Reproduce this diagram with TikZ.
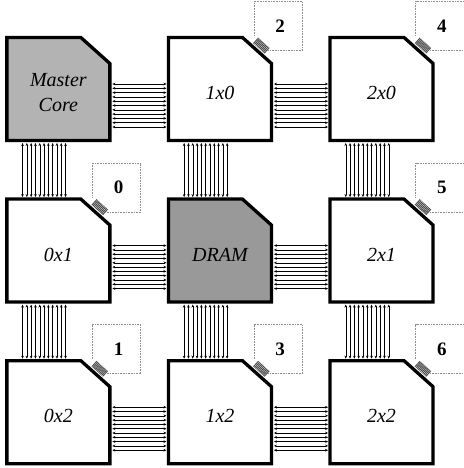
\documentclass[tikz,border=0pt]{standalone}
\usepackage{fontspec}
\setmainfont{Liberation Serif}
\usetikzlibrary{arrows.meta,positioning,calc}
\definecolor{masterGray}{HTML}{B3B3B3}
\definecolor{dramGray}{HTML}{999999}
\definecolor{tileGray}{HTML}{8C8C8C}
\begin{document}
\begin{tikzpicture}[
    x=1pt, y=1pt,
    node distance=58.6pt,
    chip/.style={outer sep=0pt, inner sep=0pt, minimum width=103pt, minimum height=103pt},
    chipedge/.style={draw=black, line width=3.3pt, miter limit=4},
    chiplabel/.style={font=\fontsize{20}{25}\selectfont\itshape, align=center},
    tile/.style={outer sep=0pt, inner sep=0pt, minimum width=48.4pt, minimum height=49pt,
                 anchor=south west, font=\fontsize{19}{23}\selectfont\bfseries},
    tileedge/.style={draw=tileGray, densely dotted, line width=0.6pt},
    busline/.style={{Stealth[length=3pt,width=2.6pt]}-{Stealth[length=3pt,width=2.6pt]}, line width=0.5pt},
    tapline/.style={line width=1pt, black!70},
  ]
  \useasboundingbox (0,0) rectangle (463,468);
  \node[chip] (master) at (58.35,379) {};
  \node[chip, right=of master] (n10) {};
  \node[chip, right=of n10] (n20) {};
  \node[chip, below=of master] (n01) {};
  \node[chip, right=of n01] (dram) {};
  \node[chip, right=of dram] (n21) {};
  \node[chip, below=of n01] (n02) {};
  \node[chip, right=of n02] (n12) {};
  \node[chip, right=of n12] (n22) {};
  \foreach \a/\c/\t in {master/masterGray/{Master\\Core},n10/white/1x0,n20/white/2x0,
                        n01/white/0x1,dram/dramGray/DRAM,n21/white/2x1,
                        n02/white/0x2,n12/white/1x2,n22/white/2x2}{
    \draw[chipedge, fill=\c] (\a.south west) -- (\a.south east) -- ([yshift=-26]\a.north east)
      -- ([xshift=-29]\a.north east) -- (\a.north west) -- cycle;
    \node[chiplabel] (label\a) at ([yshift=-4]\a.center) {\t};
  }
  \node[tile] (t0) at ([shift={(-17.5,-13)}]n01.north east) {\hspace*{4pt}0};
  \node[tile] (t1) at ([shift={(-17.5,-13)}]n02.north east) {\hspace*{4pt}1};
  \node[tile] (t2) at ([shift={(-17.5,-13)}]n10.north east) {\hspace*{4pt}2};
  \node[tile] (t3) at ([shift={(-17.5,-13)}]n12.north east) {\hspace*{4pt}3};
  \node[tile] (t4) at ([shift={(-17.5,-13)}]n20.north east) {\hspace*{4pt}4};
  \node[tile] (t5) at ([shift={(-17.5,-13)}]n21.north east) {\hspace*{4pt}5};
  \node[tile] (t6) at ([shift={(-17.5,-13)}]n22.north east) {\hspace*{4pt}6};
  \foreach \b in {t0,t1,t2,t3,t4,t5,t6}{
    \draw[tileedge] ([xshift=14.5]\b.south west) -- (\b.south east) -- (\b.north east)
      -- (\b.north west) -- ([yshift=14]\b.south west);
  }
  \foreach \a/\b in {master/n10,n10/n20,n01/dram,dram/n21,n02/n12,n12/n22}{
    \foreach \i in {-5,...,5}{
      \draw[busline] ([shift={(2.5,{\i*4.3-16.5})}]\a.east) -- ([shift={(-2,{\i*4.3-16.5})}]\b.west);
    }
  }
  \foreach \a/\b in {master/n01,n10/dram,n20/n21,n01/n02,dram/n12,n21/n22}{
    \foreach \i in {-5,...,5}{
      \draw[busline] ([shift={({\i*4.3-14.3},-2.5)}]\a.south) -- ([shift={({\i*4.3-14.3},2)}]\b.north);
    }
  }
  \foreach \a in {n01,n02,n10,n12,n20,n21,n22}{
    \begin{scope}[shift={(\a.north east)}, rotate=-42]
      \foreach \i in {-5,...,5}{
        \draw[tapline] ({\i*1.45-2.1},-16.5) -- ({\i*1.45-2.1},-9);
      }
    \end{scope}
  }
\end{tikzpicture}
\end{document}
